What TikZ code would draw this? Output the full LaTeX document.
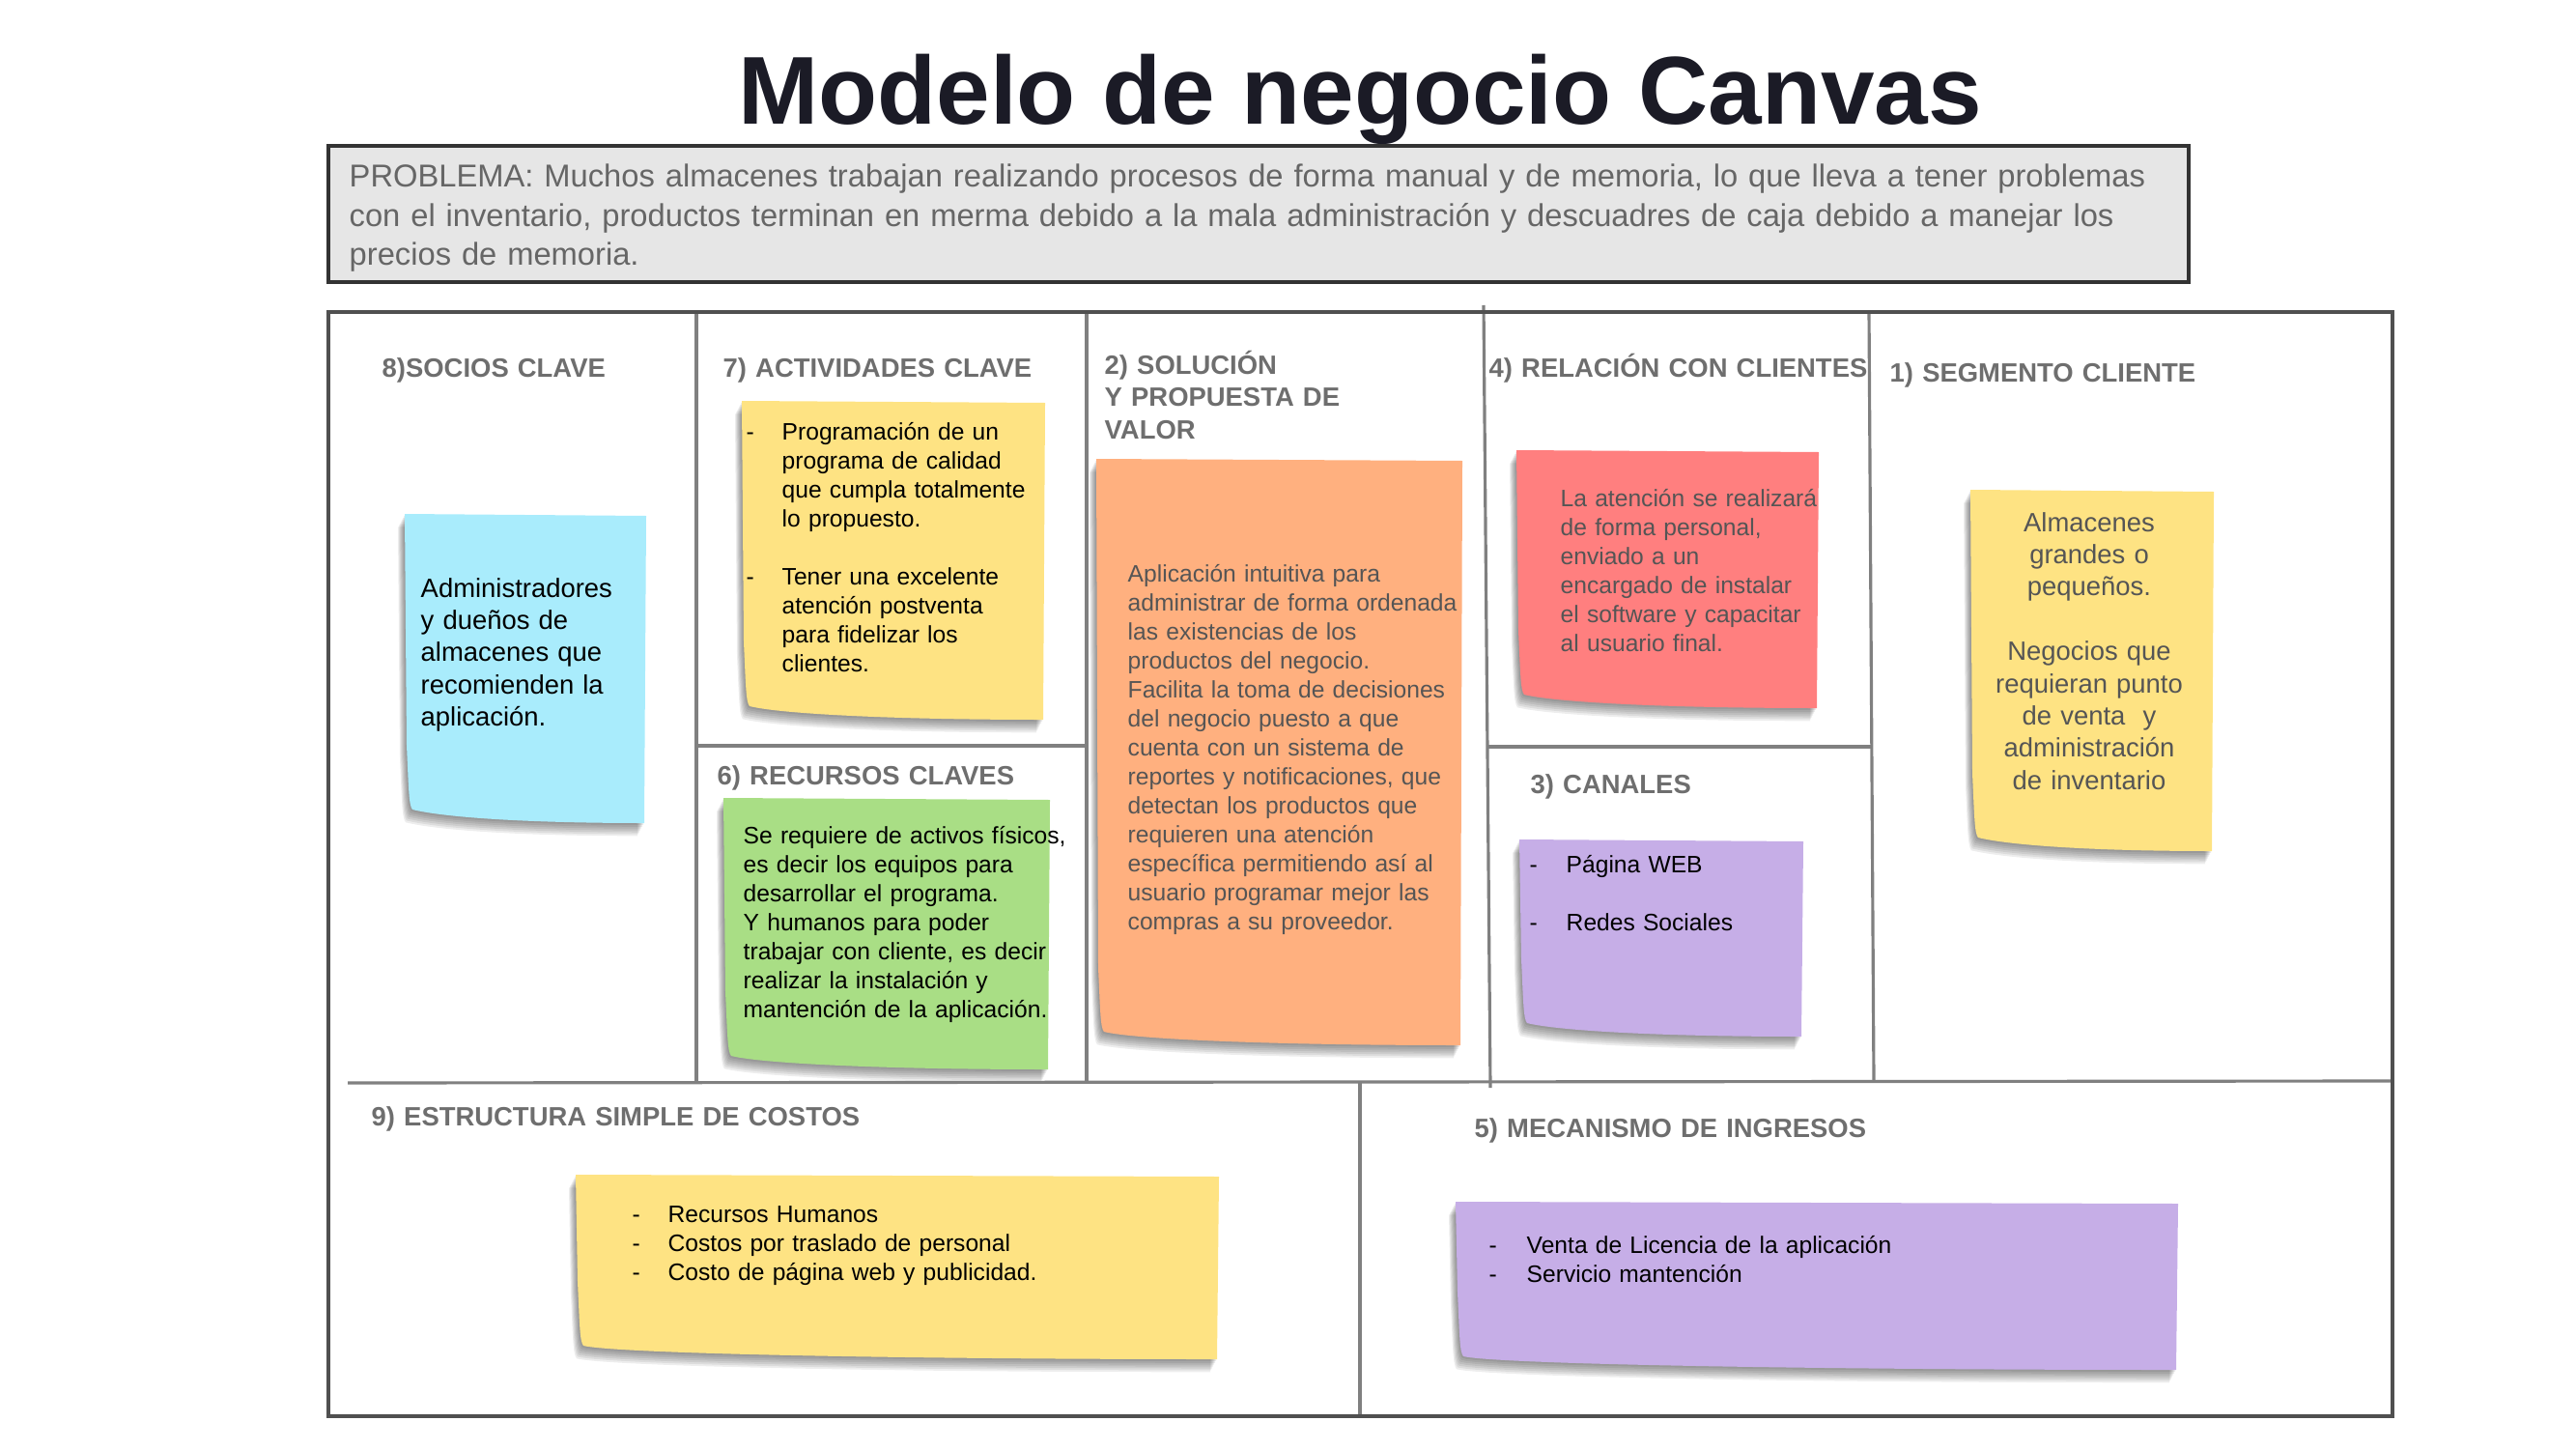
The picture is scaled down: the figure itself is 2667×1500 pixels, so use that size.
\documentclass[tikz,border=0pt]{standalone}
\usepackage{fontspec}
\setmainfont{Liberation Sans}
\usetikzlibrary{calc}
\definecolor{tinta}{HTML}{1B1B26}
\definecolor{gristit}{HTML}{6E6E6E}
\definecolor{gristexto}{HTML}{555555}
\definecolor{grisprob}{HTML}{666666}
\definecolor{fondoprob}{HTML}{E6E6E6}
\definecolor{bordeprob}{HTML}{333333}
\definecolor{bordegris}{HTML}{505050}
\definecolor{divgris}{HTML}{808080}
\definecolor{notacian}{HTML}{A9ECFC}
\definecolor{notaamar}{HTML}{FEE383}
\definecolor{notanaranja}{HTML}{FFB07F}
\definecolor{notarosa}{HTML}{FF7F7F}
\definecolor{notaverde}{HTML}{A9DE85}
\definecolor{notalila}{HTML}{C6AEE7}
\tikzset{
  titulo/.style={font=\bfseries\fontsize{28.4}{32}\selectfont,text=tinta,inner sep=0pt,anchor=base},
  cajaprob/.style={draw=bordeprob,fill=fondoprob,line width=1.2pt},
  probtxt/.style={font=\fontsize{9.3}{11.5}\selectfont,text=grisprob,inner sep=0pt,anchor=base west,align=left,text width=20cm},
  encab/.style={font=\bfseries\fontsize{7.8}{9.6}\selectfont,text=gristit,inner sep=0pt,anchor=base west,align=left,text width=6cm},
  notatxt/.style={font=\fontsize{7.0}{8.54}\selectfont,inner sep=0pt,anchor=base west,align=left,text width=4cm},
  notagrande/.style={font=\fontsize{7.8}{9.5}\selectfont,inner sep=0pt,anchor=base west,align=left,text width=3cm},
  guion/.style={font=\fontsize{7.0}{8.54}\selectfont,inner sep=0pt,anchor=base west},
  borde/.style={draw=bordegris,line width=1pt},
  division/.style={draw=divgris,line width=0.9pt},
}
% forma de la nota adhesiva: esquina inferior izquierda levantada
\newcommand{\trazonota}[4]{(#1,#2) -- (#3,{#2+2}) -- ({#3-2},#4) .. controls ({(#1+#3)/2},#4) and ({#1+40},{#4-6}) .. ({#1+8},{#4-14}) .. controls ({#1+4},{#4-18}) and ({#1+4},{#4-40}) .. ({#1+2},{#4-80}) -- cycle}
\newcommand{\notita}[5]{%
  \foreach \k in {1,...,7}{
    \fill[black,opacity=0.07,shift={(-\k*1.0,\k*1.9)}] \trazonota{#2}{#3}{#4}{#5};
  }
  \fill[#1] \trazonota{#2}{#3}{#4}{#5};
}

\begin{document}
\begin{tikzpicture}[x=0.01cm,y=-0.01cm]
\useasboundingbox (0,0) rectangle (2667,1500);
% titulo y problema
\node[titulo] (titulo) at (1408,129) {Modelo de negocio Canvas};
\draw[cajaprob] (340,151) rectangle (2266,292);
\node[probtxt] (problema) at (361,194) {PROBLEMA: Muchos almacenes trabajan realizando procesos de forma manual y de memoria, lo que lleva a tener problemas\\con el inventario, productos terminan en merma debido a la mala administración y descuadres de caja debido a manejar los\\precios de memoria.};
% notas adhesivas
\notita{notacian}{419}{532}{669}{852}
\notita{notaamar}{768}{415}{1082}{745}
\notita{notanaranja}{1135}{475}{1514}{1082}
\notita{notarosa}{1570}{466}{1883}{733}
\notita{notaamar}{2040}{507}{2292}{881}
\notita{notaverde}{749}{826}{1087}{1107}
\notita{notalila}{1573}{869}{1867}{1073}
\notita{notaamar}{596}{1216}{1262}{1407}
\notita{notalila}{1507}{1244}{2255}{1418}
% lienzo
\coordinate (so) at (340,323);
\coordinate (ie) at (2477,1466);
\coordinate (d1a) at (721,323);
\coordinate (d1b) at (721,1120);
\coordinate (d2a) at (1125,323);
\coordinate (d2b) at (1125,1120);
\coordinate (d3a) at (1536,316);
\coordinate (d3b) at (1543,1126);
\coordinate (d4a) at (1935,323);
\coordinate (d4b) at (1940,1120);
\coordinate (hma) at (360,1121);
\coordinate (hmb) at (2477,1119);
\coordinate (h1a) at (721,772);
\coordinate (h1b) at (1125,772);
\coordinate (h2a) at (1540,773);
\coordinate (h2b) at (1937,773);
\coordinate (d5a) at (1408,1120);
\coordinate (d5b) at (1408,1466);
\draw[division] (d1a) -- (d1b);
\draw[division] (d2a) -- (d2b);
\draw[division] (d3a) -- (d3b);
\draw[division] (d4a) -- (d4b);
\draw[division] (hma) -- (hmb);
\draw[division] (h1a) -- (h1b);
\draw[division] (h2a) -- (h2b);
\draw[division] (d5a) -- (d5b);
\draw[borde] (so) rectangle (ie);
% encabezados
\node[encab] (t8) at (395,390) {8)SOCIOS CLAVE};
\node[encab] (t7) at (748,390) {7) ACTIVIDADES CLAVE};
\node[encab] (t2) at (1143,387) {2) SOLUCIÓN\\Y PROPUESTA DE\\VALOR};
\node[encab] (t4) at (1541,390) {4) RELACIÓN CON CLIENTES};
\node[encab] (t1) at (1956,395) {1) SEGMENTO CLIENTE};
\node[encab] (t6) at (742,812) {6) RECURSOS CLAVES};
\node[encab] (t3) at (1584,821) {3) CANALES};
\node[encab] (t9) at (384,1165) {9) ESTRUCTURA SIMPLE DE COSTOS};
\node[encab] (t5) at (1526,1177) {5) MECANISMO DE INGRESOS};
% textos de las notas
\node[notagrande] (socios) at (435,618) {Administradores\\y dueños de\\almacenes que\\recomienden la\\aplicación.};
\node[guion] (g71) at (772,455) {-};
\node[notatxt] (act1) at (809,455) {Programación de un\\programa de calidad\\que cumpla totalmente\\lo propuesto.};
\node[guion] (g72) at (772,605) {-};
\node[notatxt] (act2) at (809,605) {Tener una excelente\\atención postventa\\para fidelizar los\\clientes.};
\node[notatxt,text=gristexto] (valor) at (1167,602) {Aplicación intuitiva para\\administrar de forma ordenada\\las existencias de los\\productos del negocio.\\Facilita la toma de decisiones\\del negocio puesto a que\\cuenta con un sistema de\\reportes y notificaciones, que\\detectan los productos que\\requieren una atención\\específica permitiendo así al\\usuario programar mejor las\\compras a su proveedor.};
\node[notatxt,text=gristexto] (relacion) at (1615,524) {La atención se realizará\\de forma personal,\\enviado a un\\encargado de instalar\\el software y capacitar\\al usuario final.};
\node[notagrande,anchor=base,align=center,text=gristexto] (segmento) at (2163,550) {Almacenes\\grandes o\\pequeños.\\[9.5pt]Negocios que\\requieran punto\\de venta~ y\\administración\\de inventario};
\node[notatxt] (recursos) at (769,873) {Se requiere de activos físicos,\\es decir los equipos para\\desarrollar el programa.\\Y humanos para poder\\trabajar con cliente, es decir\\realizar la instalación y\\mantención de la aplicación.};
\node[guion] (g31) at (1583,903) {-};
\node[notatxt] (canal1) at (1621,903) {Página WEB};
\node[guion] (g32) at (1583,963) {-};
\node[notatxt] (canal2) at (1621,963) {Redes Sociales};
\node[guion] (g91) at (654,1265) {-};
\node[guion] (g92) at (654,1295) {-};
\node[guion] (g93) at (654,1325) {-};
\node[notatxt] (costos) at (691,1265) {Recursos Humanos\\Costos por traslado de personal\\Costo de página web y publicidad.};
\node[guion] (g51) at (1541,1297) {-};
\node[guion] (g52) at (1541,1327) {-};
\node[notatxt] (ingresos) at (1580,1297) {Venta de Licencia de la aplicación\\Servicio mantención};
\end{tikzpicture}
\end{document}
